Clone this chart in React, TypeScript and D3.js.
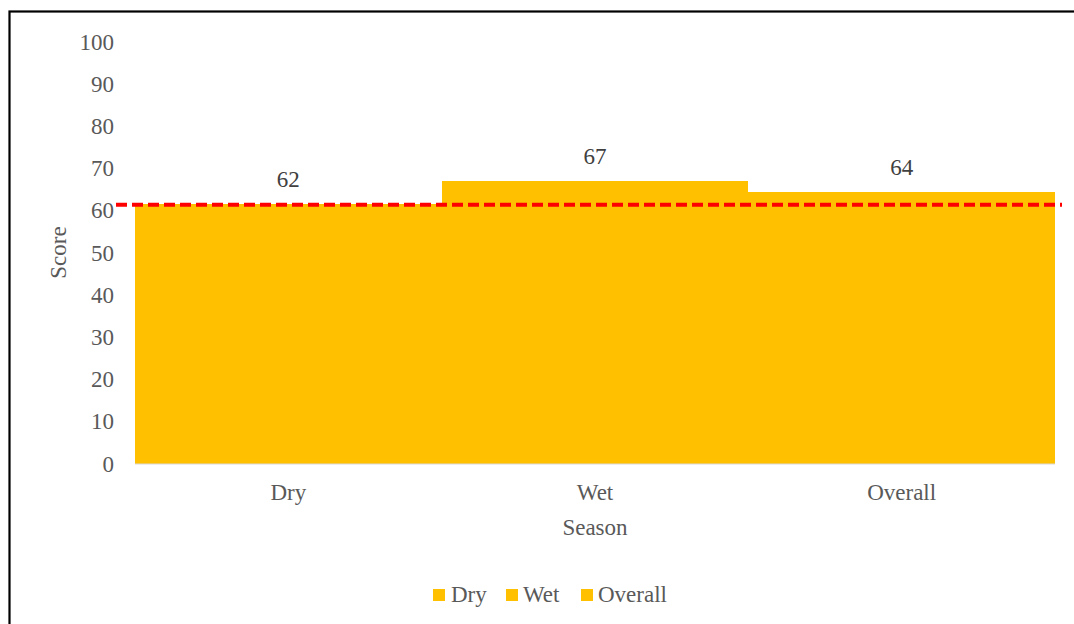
import React from "react";
import * as d3 from "d3";

// Seasonal scores
const seasons: string[] = ["Dry", "Wet", "Overall"];
const scores: number[] = [61.6, 66.9, 64.3];
const referenceScore = 61.3;
const yTicks: number[] = [0, 10, 20, 30, 40, 50, 60, 70, 80, 90, 100];

const W = 1074;
const H = 624;
const FONT = "'Liberation Serif', 'Times New Roman', serif";
const FS = 23;
const TEXT = "#595959";
const BAR = "#FFC000";

export default function App() {
  const x = d3.scaleBand<string>().domain(seasons).range([135, 1055]).padding(0);
  const y = d3.scaleLinear().domain([0, 100]).range([463.5, 41.5]);
  const fmt = d3.format(".0f");

  const legendItems = [
    { name: "Dry", sq: 433, tx: 451 },
    { name: "Wet", sq: 506, tx: 523 },
    { name: "Overall", sq: 581, tx: 598 },
  ];

  return (
    <svg
      width={W}
      height={H}
      style={{ position: "absolute", left: 0, top: 0, background: "#fff" }}
      fontFamily={FONT}
    >
      <rect x={9.5} y={11.5} width={1200} height={800} fill="#fff" stroke="#000" strokeWidth={2.2} />

      {/* y tick labels */}
      {yTicks.map((t) => (
        <text key={t} x={114} y={y(t)} dy="0.35em" textAnchor="end" fontSize={FS} fill={TEXT}>
          {t}
        </text>
      ))}

      {/* bars */}
      {seasons.map((s, i) => (
        <rect
          key={s}
          x={Math.round(x(s)!)}
          y={y(scores[i])}
          width={Math.round(x(s)! + x.bandwidth()) - Math.round(x(s)!)}
          height={y(0) - y(scores[i])}
          fill={BAR}
          shapeRendering="crispEdges"
        />
      ))}

      {/* baseline */}
      <line x1={135} x2={1055} y1={y(0) + 0.5} y2={y(0) + 0.5} stroke="#D9D9D9" strokeWidth={1} />

      {/* value labels */}
      {seasons.map((s, i) => (
        <text
          key={s}
          x={x(s)! + x.bandwidth() / 2}
          y={y(scores[i]) - 25}
          dy="0.35em"
          textAnchor="middle"
          fontSize={FS}
          fill="#404040"
        >
          {fmt(scores[i])}
        </text>
      ))}

      {/* reference line */}
      <line
        x1={116}
        x2={1062}
        y1={y(referenceScore)}
        y2={y(referenceScore)}
        stroke="#FF0000"
        strokeWidth={4}
        strokeDasharray="11,5"
      />

      {/* category labels */}
      {seasons.map((s) => (
        <text key={s} x={x(s)! + x.bandwidth() / 2} y={500} textAnchor="middle" fontSize={FS} fill={TEXT}>
          {s}
        </text>
      ))}

      {/* axis titles */}
      <text x={595} y={535} textAnchor="middle" fontSize={FS} fill={TEXT}>
        Season
      </text>
      <text transform="translate(66,252.5) rotate(-90)" textAnchor="middle" fontSize={FS} fill={TEXT}>
        Score
      </text>

      {/* legend */}
      {legendItems.map((l) => (
        <g key={l.name}>
          <rect x={l.sq} y={589} width={12} height={12} fill={BAR} />
          <text x={l.tx} y={602} fontSize={FS} fill={TEXT}>
            {l.name}
          </text>
        </g>
      ))}
    </svg>
  );
}
